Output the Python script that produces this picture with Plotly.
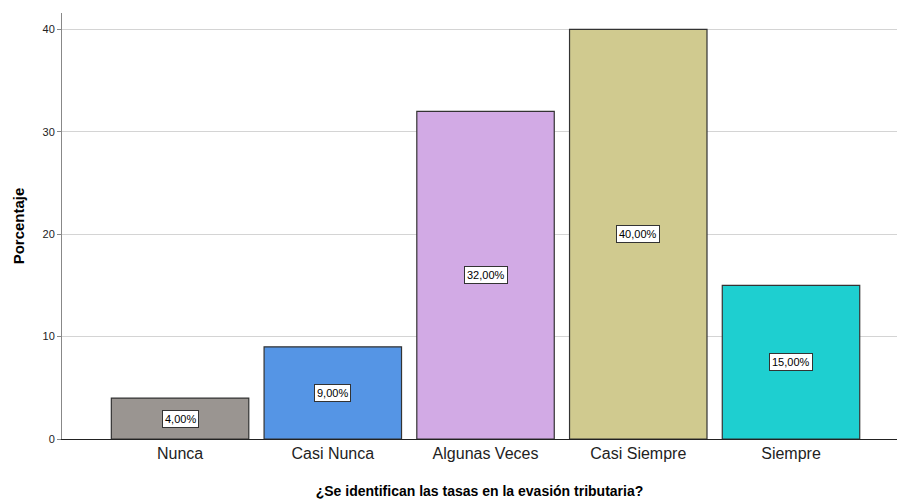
import plotly.graph_objects as go

categories = ["Nunca", "Casi Nunca", "Algunas Veces", "Casi Siempre", "Siempre"]
values = [4, 9, 32, 40, 15]
labels = ["4,00%", "9,00%", "32,00%", "40,00%", "15,00%"]
colors = ["#9a9591", "#5595e5", "#d2aae5", "#d0ca8f", "#1ecfd0"]

fig = go.Figure()
fig.add_trace(go.Bar(
    x=categories, y=values,
    marker=dict(color=colors, line=dict(color="#333333", width=1.2)),
    width=0.9, hoverinfo="skip"
))

for c, v, t in zip(categories, values, labels):
    fig.add_annotation(
        x=c, y=v / 2, text=t, showarrow=False,
        font=dict(family="Liberation Sans, Arial", size=11, color="#000000"),
        bgcolor="white", bordercolor="#333333", borderwidth=1, borderpad=2
    )

fig.update_layout(
    width=897, height=500,
    margin=dict(l=62, r=0, t=13, b=61),
    plot_bgcolor="white", paper_bgcolor="white",
    showlegend=False,
    font=dict(family="Liberation Sans, Arial", color="#000000"),
    xaxis=dict(
        range=[-0.773, 4.694],
        showline=True, linecolor="#222222", linewidth=1,
        ticks="", tickfont=dict(size=16, color="#222222"),
        title=dict(text="<b>¿Se identifican las tasas en la evasión tributaria?</b>",
                   font=dict(size=14, color="#000000"), standoff=24),
        showgrid=False,
    ),
    yaxis=dict(
        range=[0, 41.6],
        tickvals=[0, 10, 20, 30, 40],
        showline=True, linecolor="#888888", linewidth=1,
        ticks="outside", ticklen=4, tickcolor="#888888",
        tickfont=dict(size=11, color="#222222"),
        showgrid=True, gridcolor="#d4d4d4", gridwidth=1,
        zeroline=False,
        title=dict(text="<b>Porcentaje</b>", font=dict(size=15, color="#000000"), standoff=14),
    ),
)

fig.write_html("out.html")
